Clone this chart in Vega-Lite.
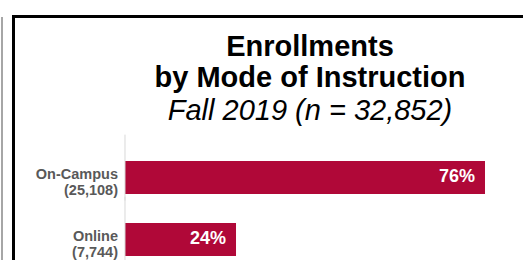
{
  "$schema": "https://vega.github.io/schema/vega-lite/v6.json",
  "autosize": "none",
  "width": 512,
  "height": 250,
  "padding": {"left": 13.5, "top": 16.5, "right": 0, "bottom": 0},
  "background": "white",
  "data": {"values": [
    {"label": "On-Campus (25,108)", "pct": 0.7643},
    {"label": "Online (7,744)", "pct": 0.2357}
  ]},
  "title": {
    "text": ["Enrollments", "by Mode of Instruction"],
    "subtitle": "Fall 2019 (n = 32,852)",
    "anchor": "middle",
    "dx": 40.5,
    "offset": -109,
    "font": "Liberation Sans",
    "fontSize": 29,
    "fontWeight": "bold",
    "lineHeight": 31,
    "color": "black",
    "subtitleFont": "Liberation Sans",
    "subtitleFontSize": 29,
    "subtitleFontStyle": "italic",
    "subtitleFontWeight": "normal",
    "subtitleColor": "black",
    "subtitlePadding": 4,
    "subtitleLineHeight": 31
  },
  "layer": [
    {
      "mark": {"type": "bar", "color": "#B00838"},
      "encoding": {
        "y": {
          "field": "label",
          "type": "nominal",
          "sort": null,
          "scale": {"domain": [" ", "On-Campus (25,108)", "Online (7,744)"], "paddingInner": 0.468, "paddingOuter": 0.75, "align": 0.887},
          "axis": {
            "offset": -111,
            "domain": false,
            "ticks": false,
            "labelPadding": 7,
            "labelOffset": -2.5,
            "labelExpr": "split(datum.label, ' ')",
            "labelFont": "Liberation Sans",
            "labelFontSize": 14.5,
            "labelFontWeight": "bold",
            "labelColor": "#595959",
            "labelLineHeight": 16.5,
            "title": null
          }
        },
        "x": {"field": "pct", "type": "quantitative", "scale": {"domain": [-0.2367, 0.8503], "nice": false}, "axis": null}
      }
    },
    {
      "mark": {"type": "text", "align": "right", "dx": -10, "color": "white", "fontWeight": "bold", "fontSize": 18, "font": "Liberation Sans", "baseline": "middle"},
      "encoding": {
        "y": {"field": "label", "type": "nominal", "axis": null},
        "x": {"field": "pct", "type": "quantitative"},
        "text": {"field": "pct", "type": "quantitative", "format": ".0%"}
      }
    },
    {
      "mark": {"type": "rule", "color": "#d9d9d9", "strokeWidth": 1},
      "encoding": {
        "x": {"datum": 0, "type": "quantitative"},
        "y": {"field": "label", "type": "nominal", "bandPosition": -0.8,
              "axis": {"orient": "left", "offset": 12, "labels": false, "ticks": false, "domain": true, "domainColor": "#a6a6a6", "domainWidth": 2, "title": null, "grid": false}},
        "y2": {"field": "label", "bandPosition": 1.2}
      }
    }
  ],
  "resolve": {"axis": {"y": "independent"}},
  "config": {"view": {"stroke": "black", "strokeWidth": 3}}
}
